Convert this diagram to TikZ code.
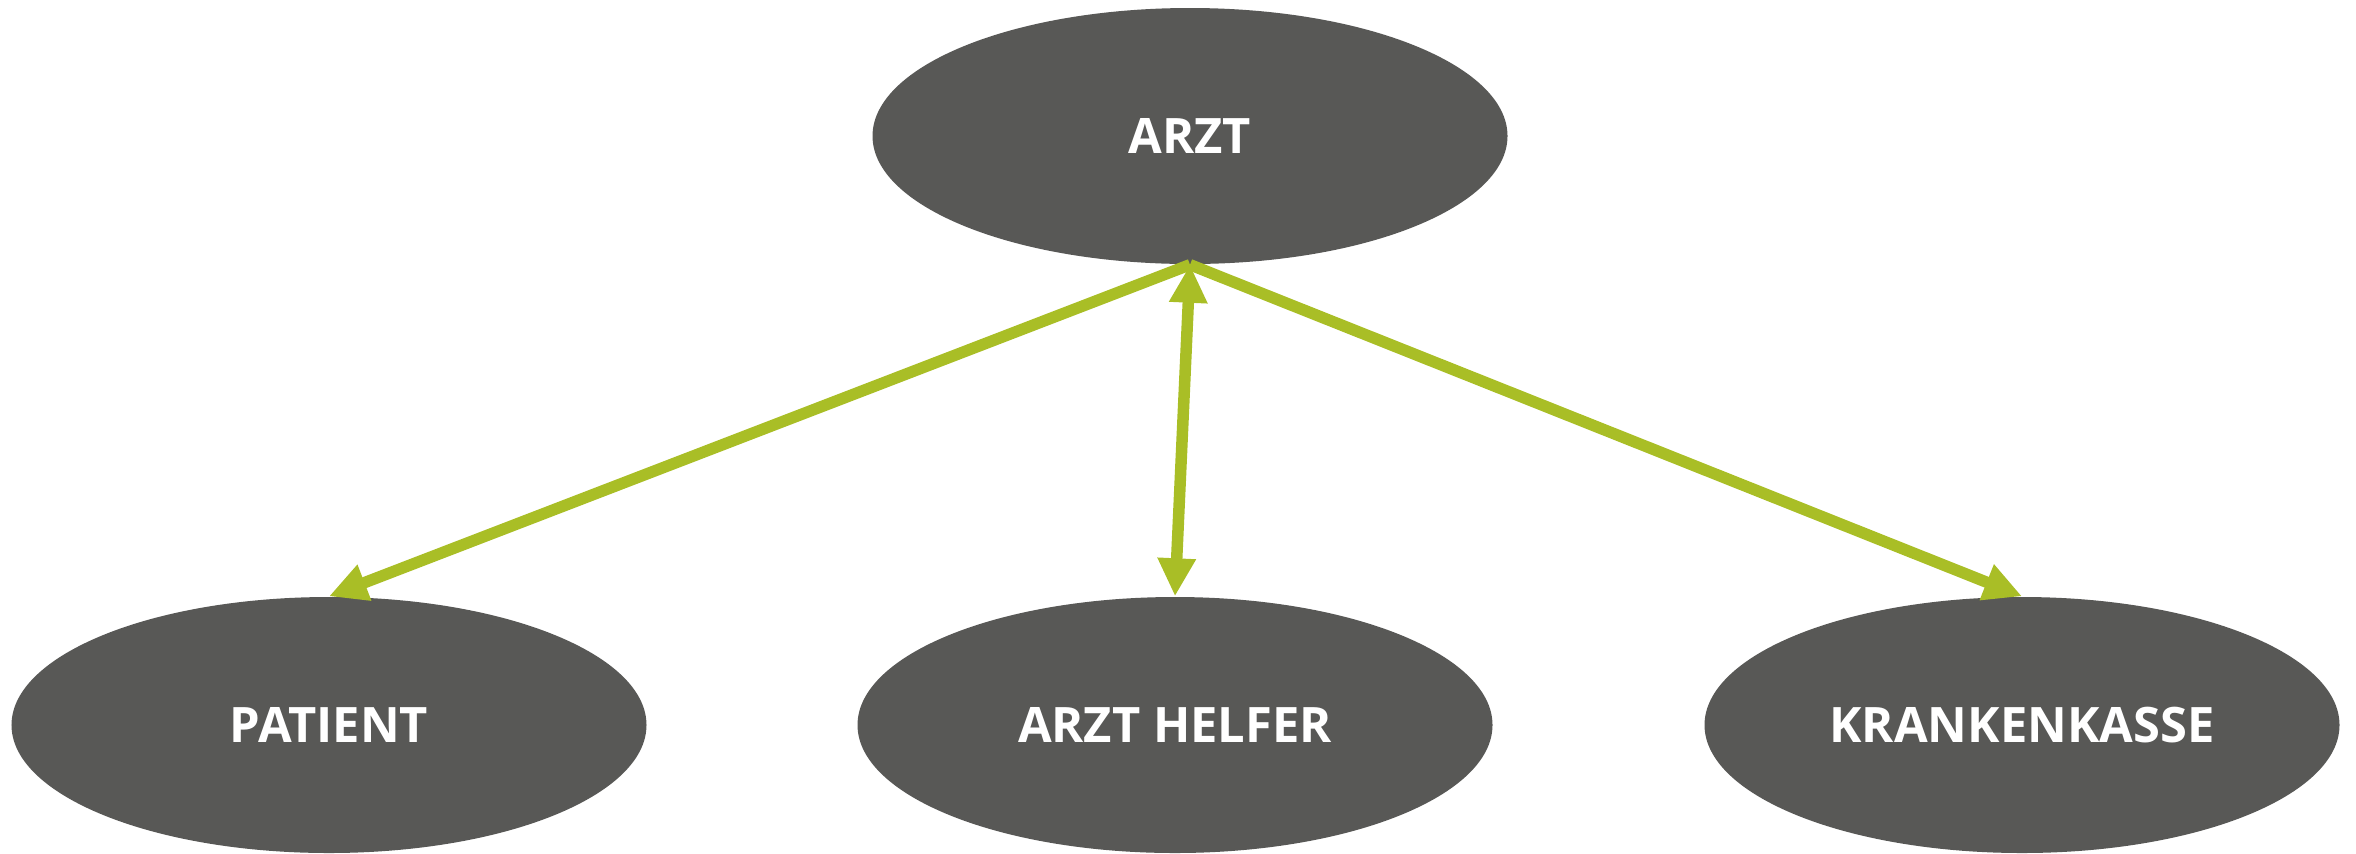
\documentclass[tikz,border=0pt]{standalone}
\usepackage{fontspec}
\setmainfont{Open Sans}
\usetikzlibrary{shapes.geometric,arrows.meta}

\definecolor{ovalgrey}{RGB}{88,88,86}
\definecolor{linkgreen}{RGB}{169,190,38}

\tikzset{
	role/.style={ellipse, fill=ovalgrey, text=white, inner sep=0pt,
		minimum width=6.35cm, minimum height=2.56cm,
		font=\fontsize{13.9}{16}\selectfont\bfseries},
	tip/.tip={Triangle[width=0.36cm,length=0.38cm]},
	link/.style={draw=linkgreen, line width=0.115cm, -tip},
}

\begin{document}
\begin{tikzpicture}
\useasboundingbox (0,0) rectangle (23.56,8.53);

%top oval
\node [role] (arzt) at (11.90,7.17) {ARZT};
%bottom ovals
\node [role] (patient) at (3.29,1.28) {PATIENT};
\node [role] (helfer) at (11.75,1.28) {ARZT HELFER};
\node [role] (kasse) at (20.22,1.28) {KRANKENKASSE};

%arrows
\draw [link] (arzt.south) -- (patient.north);
\draw [link] (arzt.south) -- (kasse.north);
\draw [link, tip-tip] (arzt.south) -- (helfer.north);
\end{tikzpicture}
\end{document}
